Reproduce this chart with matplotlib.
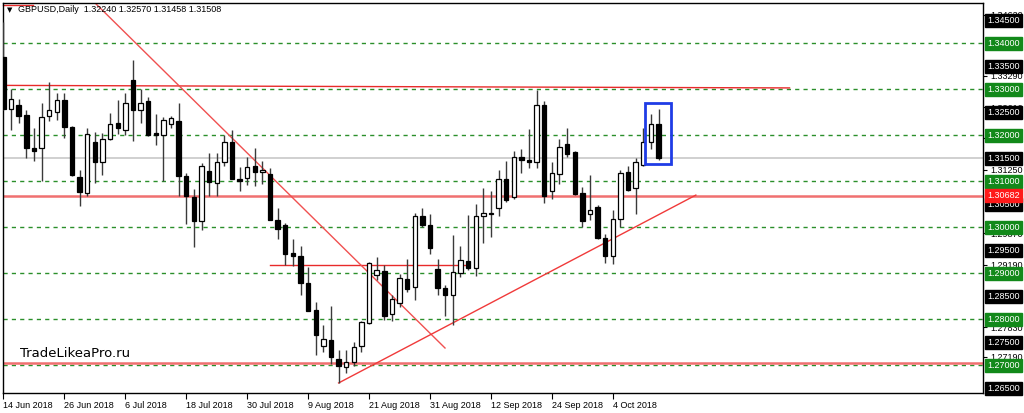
import matplotlib
matplotlib.use("Agg")
import matplotlib.pyplot as plt
import matplotlib.transforms as mtransforms
from matplotlib.patches import Rectangle
import numpy as np

plt.rcParams["font.family"] = ["Liberation Sans", "DejaVu Sans"]

# ---------------- data ----------------
dates = ["14 Jun", "15 Jun", "18 Jun", "19 Jun", "20 Jun", "21 Jun", "22 Jun", "25 Jun", "26 Jun", "27 Jun",
         "28 Jun", "29 Jun", "2 Jul", "3 Jul", "4 Jul", "5 Jul", "6 Jul", "9 Jul", "10 Jul", "11 Jul",
         "12 Jul", "13 Jul", "16 Jul", "17 Jul", "18 Jul", "19 Jul", "20 Jul", "23 Jul", "24 Jul", "25 Jul",
         "26 Jul", "27 Jul", "30 Jul", "31 Jul", "1 Aug", "2 Aug", "3 Aug", "6 Aug", "7 Aug", "8 Aug",
         "9 Aug", "10 Aug", "13 Aug", "14 Aug", "15 Aug", "16 Aug", "17 Aug", "20 Aug", "21 Aug", "22 Aug",
         "23 Aug", "24 Aug", "27 Aug", "28 Aug", "29 Aug", "30 Aug", "31 Aug", "3 Sep", "4 Sep", "5 Sep",
         "6 Sep", "7 Sep", "10 Sep", "11 Sep", "12 Sep", "13 Sep", "14 Sep", "17 Sep", "18 Sep", "19 Sep",
         "20 Sep", "21 Sep", "24 Sep", "25 Sep", "26 Sep", "27 Sep", "28 Sep", "1 Oct", "2 Oct", "3 Oct",
         "4 Oct", "5 Oct", "8 Oct", "9 Oct", "10 Oct", "11 Oct", "12 Oct"]

opens = [1.3371, 1.3258, 1.3266, 1.3244, 1.3173, 1.3172, 1.3241, 1.3251, 1.3277, 1.3217,
         1.3110, 1.3074, 1.3186, 1.3141, 1.3191, 1.3226, 1.3212, 1.3320, 1.3255, 1.3275,
         1.3204, 1.3201, 1.3225, 1.3232, 1.3112, 1.3066, 1.3013, 1.3122, 1.3096, 1.3141,
         1.3186, 1.3105, 1.3108, 1.3133, 1.3120, 1.3116, 1.3015, 1.3005, 1.2944, 1.2937,
         1.2879, 1.2821, 1.2741, 1.2755, 1.2714, 1.2696, 1.2708, 1.2741, 1.2791, 1.2896,
         1.2904, 1.2812, 1.2836, 1.2888, 1.2870, 1.3024, 1.3006, 1.2910, 1.2869, 1.2852,
         1.2901, 1.2927, 1.2912, 1.3024, 1.3030, 1.3043, 1.3105, 1.3065, 1.3153, 1.3146,
         1.3141, 1.3265, 1.3079, 1.3115, 1.3182, 1.3164, 1.3075, 1.3028, 1.3044, 1.2977,
         1.2938, 1.3019, 1.3120, 1.3086, 1.3135, 1.3186, 1.32240]
highs = [1.3447, 1.3301, 1.3278, 1.3255, 1.3215, 1.3270, 1.3315, 1.3293, 1.3293, 1.3220,
         1.3125, 1.3215, 1.3208, 1.3206, 1.3249, 1.3277, 1.3291, 1.3364, 1.3301, 1.3284,
         1.3246, 1.3239, 1.3241, 1.3270, 1.3118, 1.3083, 1.3140, 1.3162, 1.3162, 1.3201,
         1.3212, 1.3131, 1.3153, 1.3173, 1.3145, 1.3129, 1.3042, 1.3009, 1.2975, 1.2960,
         1.2913, 1.2838, 1.2788, 1.2829, 1.2734, 1.2733, 1.2751, 1.2796, 1.2924, 1.2936,
         1.2919, 1.2852, 1.2899, 1.2932, 1.3031, 1.3042, 1.3028, 1.2932, 1.2875, 1.2983,
         1.2959, 1.3026, 1.3051, 1.3086, 1.3080, 1.3124, 1.3144, 1.3165, 1.3171, 1.3213,
         1.3299, 1.3275, 1.3142, 1.3191, 1.3216, 1.3166, 1.3088, 1.3113, 1.3048, 1.2985,
         1.3038, 1.3124, 1.3133, 1.3151, 1.3215, 1.3247, 1.32570]
lows = [1.3255, 1.3212, 1.3226, 1.3150, 1.3145, 1.3101, 1.3232, 1.3233, 1.3194, 1.3112,
        1.3047, 1.3067, 1.3096, 1.3114, 1.3190, 1.3202, 1.3201, 1.3188, 1.3226, 1.3199,
        1.3179, 1.3101, 1.3216, 1.3069, 1.3008, 1.2957, 1.2994, 1.3069, 1.3069, 1.3133,
        1.3104, 1.3080, 1.3093, 1.3089, 1.3095, 1.3015, 1.2975, 1.2919, 1.2915, 1.2852,
        1.2817, 1.2723, 1.2728, 1.2703, 1.2661, 1.2684, 1.2699, 1.2728, 1.2789, 1.2886,
        1.2799, 1.2796, 1.2827, 1.2859, 1.2843, 1.3001, 1.2943, 1.2852, 1.2807, 1.2787,
        1.2892, 1.2907, 1.2895, 1.2965, 1.2978, 1.3024, 1.3055, 1.3062, 1.3118, 1.3130,
        1.3128, 1.3053, 1.3061, 1.3095, 1.3153, 1.3071, 1.3001, 1.3015, 1.2975, 1.2923,
        1.2921, 1.3001, 1.3080, 1.3030, 1.3133, 1.3171, 1.31458]
closes = [1.3257, 1.3278, 1.3242, 1.3172, 1.3166, 1.3239, 1.3255, 1.3277, 1.3217, 1.3114,
          1.3076, 1.3203, 1.3141, 1.3191, 1.3224, 1.3215, 1.3270, 1.3255, 1.3270, 1.3200,
          1.3201, 1.3233, 1.3238, 1.3112, 1.3067, 1.3013, 1.3133, 1.3099, 1.3142, 1.3186,
          1.3105, 1.3101, 1.3131, 1.3120, 1.3125, 1.3015, 1.2996, 1.2942, 1.2938, 1.2880,
          1.2819, 1.2765, 1.2757, 1.2719, 1.2699, 1.2708, 1.2739, 1.2795, 1.2923, 1.2908,
          1.2808, 1.2844, 1.2890, 1.2866, 1.3024, 1.3006, 1.2955, 1.2869, 1.2852, 1.2903,
          1.2928, 1.2912, 1.3024, 1.3031, 1.3031, 1.3104, 1.3060, 1.3153, 1.3146, 1.3141,
          1.3265, 1.3068, 1.3117, 1.3175, 1.3159, 1.3072, 1.3013, 1.3038, 1.2977, 1.2938,
          1.3019, 1.3117, 1.3082, 1.3142, 1.3186, 1.3225, 1.31508]

xtick_idx = [0, 8, 16, 24, 32, 40, 48, 56, 64, 72, 80]
xtick_labels = ["14 Jun 2018", "26 Jun 2018", "6 Jul 2018", "18 Jul 2018", "30 Jul 2018", "9 Aug 2018",
                "21 Aug 2018", "31 Aug 2018", "12 Sep 2018", "24 Sep 2018", "4 Oct 2018"]

scale_ticks = [1.34620, 1.33290, 1.32610, 1.31950, 1.31250, 1.29870, 1.29190, 1.27830, 1.27190]
green_levels = [1.27, 1.28, 1.29, 1.30, 1.31, 1.32, 1.33, 1.34]
black_levels = [1.265, 1.275, 1.285, 1.295, 1.305, 1.315, 1.325, 1.335, 1.345]
red_level = 1.30682
bid_price = 1.31508
header = "GBPUSD,Daily  1.32240 1.32570 1.31458 1.31508"

# ---------------- figure ----------------
W, H = 1024, 413
fig = plt.figure(figsize=(W / 100, H / 100), dpi=100)
left_px, right_px, top_px, bot_px = 2.7, 983, 3, 393
ax = fig.add_axes([left_px / W, 1 - bot_px / H, (right_px - left_px) / W, (bot_px - top_px) / H])
ax.set_xlim(-0.1, 128.6)
ax.set_ylim(1.26398, 1.34876)

x = np.arange(len(opens))
o = np.array(opens); h = np.array(highs); l = np.array(lows); c = np.array(closes)

# grid levels
for lv in green_levels:
    ax.axhline(lv, color="#2b8f2b", lw=1.0, ls=(0, (3, 3)), zorder=1)

# bid line
ax.axhline(bid_price, color="#c8c8c8", lw=1.2, zorder=1)

# horizontal red lines
ax.axhline(red_level, color="#f07070", lw=1.8, zorder=1.2)
ax.axhline(1.27060, color="#f07070", lw=1.8, zorder=1.2)
ax.plot([-0.1, 103.2], [1.33085, 1.33030], color="#e82a2a", lw=1.0, zorder=1.2)
ax.plot([35.0, 61.0], [1.2918, 1.2918], color="#e82a2a", lw=1.0, zorder=1.2)
ax.plot([-0.1, 3.9], [1.34833, 1.34833], color="#e82a2a", lw=1.0, zorder=1.2, clip_on=False)

# trendlines
ax.plot([12.03, 57.97], [1.34876, 1.27376], color="#f05050", lw=1.0, zorder=1.3)
ax.plot([44, 90.9], [1.26616, 1.30700], color="#f03a3a", lw=1.0, zorder=1.3)

# candles
ax.vlines(x, l, h, color="#3a3a3a", lw=1.0, zorder=3)
up = c >= o
body_bot = np.minimum(o, c)
body_h = np.maximum(np.abs(c - o), 0.00004)
ax.bar(x[up], body_h[up], bottom=body_bot[up], width=0.58, color="white",
       edgecolor="black", linewidth=0.9, zorder=4)
ax.bar(x[~up], body_h[~up], bottom=body_bot[~up], width=0.58, color="black",
       edgecolor="black", linewidth=0.9, zorder=4)

# blue box around last candles
ax.add_patch(Rectangle((84.2, 1.31376), 3.4, 0.0132, fill=False, edgecolor="#1f3ce6", lw=2.0, zorder=5))

# axes styling
for s in ax.spines.values():
    s.set_color("black"); s.set_linewidth(1.0)
ax.yaxis.tick_right()
ax.set_yticks(scale_ticks)
ax.set_yticklabels([f"{v:.5f}" for v in scale_ticks], fontsize=6.5)
ax.tick_params(axis="y", direction="out", length=3, width=0.8, pad=2)
ax.set_xticks(xtick_idx)
ax.set_xticklabels(xtick_labels, fontsize=6.5, ha="left")
ax.tick_params(axis="x", direction="out", length=4, width=0.8, pad=2)

trans = mtransforms.blended_transform_factory(ax.transAxes, ax.transData)
def box_label(v, fc):
    ax.text(1.0045, v, f"{v:.5f}", transform=trans, fontsize=6.5, color="white", va="center", ha="left",
            clip_on=False, zorder=10,
            bbox=dict(boxstyle="square,pad=0.22", facecolor=fc, edgecolor=fc))
for v in green_levels:
    box_label(v, "#12891a")
for v in black_levels:
    box_label(v, "black")
box_label(red_level, "#ff1a1a")

# header and watermark
fig.text(7 / W, 1 - 10 / H, "\u25bc", fontsize=5, va="center", ha="left", color="black",
         family="DejaVu Sans")
fig.text(18 / W, 1 - 10 / H, header, fontsize=6.5, va="center", ha="left", color="black")
ax.text(2.2, 1.2726, "TradeLikeaPro.ru", fontsize=9.5, va="center", ha="left", color="black",
        zorder=6, family="DejaVu Sans")

fig.savefig("out.png", dpi=100, facecolor="white")
